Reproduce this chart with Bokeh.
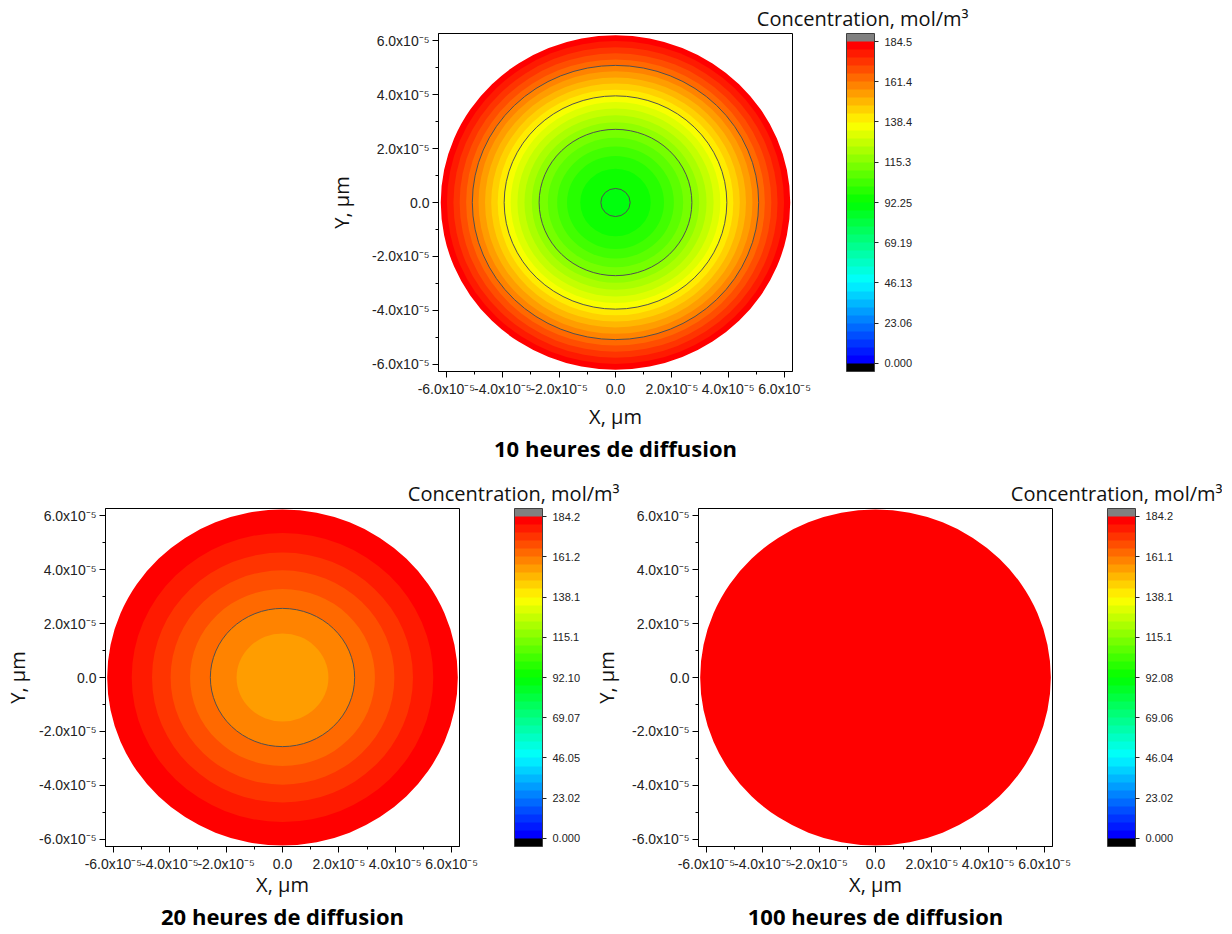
import colorsys
from bokeh.plotting import figure
from bokeh.models import (ColumnDataSource, LinearColorMapper, ColorBar, FixedTicker,
                          Title, Spacer, Range1d)
from bokeh.layouts import column, row
from bokeh.embed import file_html
from bokeh.resources import INLINE

# ---------------- data ----------------
axis_ticks = [-6e-5, -4e-5, -2e-5, 0.0, 2e-5, 4e-5, 6e-5]
axis_tick_labels = ["-6.0x10⁻⁵", "-4.0x10⁻⁵", "-2.0x10⁻⁵", "0.0",
                    "2.0x10⁻⁵", "4.0x10⁻⁵", "6.0x10⁻⁵"]
axis_minor_ticks = [-5e-5, -3e-5, -1e-5, 1e-5, 3e-5, 5e-5]

# 10 h of diffusion
cmax_10 = 184.5
cbar_ticks_10 = [0.0, 23.06, 46.13, 69.19, 92.25, 115.3, 138.4, 161.4, 184.5]
cbar_labels_10 = ["0.000", "23.06", "46.13", "69.19", "92.25", "115.3", "138.4", "161.4", "184.5"]
band_radius_10 = [6.20e-5, 5.98e-5, 5.75e-5, 5.53e-5, 5.30e-5, 5.08e-5, 4.86e-5, 4.63e-5,
                  4.41e-5, 4.18e-5, 3.95e-5, 3.72e-5, 3.48e-5, 3.23e-5, 2.97e-5, 2.71e-5,
                  2.40e-5, 2.07e-5, 1.72e-5, 1.25e-5, 0.52e-5]
band_conc_10 = [182.2, 177.6, 173.0, 168.4, 163.7, 159.1, 154.5, 149.9, 145.3, 140.7,
                136.1, 131.5, 126.8, 122.2, 117.6, 113.0, 108.4, 103.8, 99.2, 94.6, 90.0]
contour_radius_10 = [5.08e-5, 3.95e-5, 2.71e-5, 0.52e-5]

# 20 h of diffusion
cmax_20 = 184.2
cbar_ticks_20 = [0.0, 23.02, 46.05, 69.07, 92.10, 115.1, 138.1, 161.2, 184.2]
cbar_labels_20 = ["0.000", "23.02", "46.05", "69.07", "92.10", "115.1", "138.1", "161.2", "184.2"]
band_radius_20 = [6.22e-5, 5.35e-5, 4.63e-5, 3.97e-5, 3.28e-5, 2.56e-5, 1.63e-5]
band_conc_20 = [181.9, 177.3, 172.7, 168.1, 163.5, 158.9, 154.3]
contour_radius_20 = [2.56e-5]

# 100 h of diffusion
cmax_100 = 184.16
cbar_ticks_100 = [0.0, 23.02, 46.04, 69.06, 92.08, 115.1, 138.1, 161.1, 184.2]
cbar_labels_100 = ["0.000", "23.02", "46.04", "69.06", "92.08", "115.1", "138.1", "161.1", "184.2"]
band_radius_100 = [6.22e-5]
band_conc_100 = [182.0]
contour_radius_100 = []

# ---------------- style ----------------
N_LEVELS = 40
rainbow = []
for k in range(N_LEVELS):
    h = 240.0 * (1 - k / (N_LEVELS - 1)) / 360.0
    r, g, b = colorsys.hsv_to_rgb(h, 1, 1)
    rainbow.append("#%02x%02x%02x" % (round(r * 255), round(g * 255), round(b * 255)))
palette = ["#000000"] + rainbow + ["#808080"]

FW, FH = 354, 338
TICK_FONT = "Liberation Sans"
TITLE_FONT = "Open Sans"


def make_panel(cmax, cticks, clabels, radii, concs, contours, subtitle,
               mb_left, mb_right, mb_top, mb_bottom, ylab_standoff, xlab_standoff,
               title_offset, cb_gap, margin=None):
    bin_w = cmax / N_LEVELS
    mapper = LinearColorMapper(palette=palette, low=-bin_w, high=cmax + bin_w)
    kw = {}
    if margin is not None:
        kw["margin"] = margin
    p = figure(frame_width=FW, frame_height=FH,
               x_range=Range1d(-6.28e-5, 6.28e-5), y_range=Range1d(-6.26e-5, 6.26e-5),
               output_backend="svg", toolbar_location=None,
               min_border_left=mb_left, min_border_right=mb_right,
               min_border_top=mb_top, min_border_bottom=mb_bottom, **kw)
    p.border_fill_alpha = 0
    p.background_fill_color = "white"
    p.grid.visible = False
    p.outline_line_color = "black"
    p.outline_line_width = 1

    src = ColumnDataSource(dict(x=[0.0] * len(radii), y=[0.0] * len(radii),
                                d=[2 * r for r in radii], c=concs))
    p.ellipse(x="x", y="y", width="d", height="d", source=src,
              fill_color={"field": "c", "transform": mapper}, line_color=None)
    if contours:
        csrc = ColumnDataSource(dict(x=[0.0] * len(contours), y=[0.0] * len(contours),
                                     d=[2 * r for r in contours]))
        p.ellipse(x="x", y="y", width="d", height="d", source=csrc,
                  fill_color=None, line_color="#505050", line_width=1)

    overrides = dict(zip(axis_ticks, axis_tick_labels))
    for ax in (p.xaxis[0], p.yaxis[0]):
        ax.ticker = FixedTicker(ticks=axis_ticks, minor_ticks=axis_minor_ticks)
        ax.major_label_overrides = overrides
        ax.major_tick_in = 0
        ax.major_tick_out = 6
        ax.minor_tick_in = 0
        ax.minor_tick_out = 3
        ax.axis_line_color = "black"
        ax.major_tick_line_color = "black"
        ax.minor_tick_line_color = "black"
        ax.major_label_text_font = TICK_FONT
        ax.major_label_text_font_size = "14px"
        ax.major_label_text_color = "#222222"
        ax.major_label_standoff = 3
        ax.axis_label_text_font = TITLE_FONT
        ax.axis_label_text_font_size = "20px"
        ax.axis_label_text_font_style = "normal"
        ax.axis_label_text_color = "#111111"
    p.xaxis.axis_label = "X, µm"
    p.yaxis.axis_label = "Y, µm"
    p.xaxis.axis_label_standoff = xlab_standoff
    p.yaxis.axis_label_standoff = ylab_standoff

    cb = ColorBar(color_mapper=mapper, ticker=FixedTicker(ticks=cticks),
                  major_label_overrides=dict(zip(cticks, clabels)),
                  width=28, height=FH, location=(FW + cb_gap, 0), padding=0, margin=0,
                  bar_line_color="#404040", bar_line_width=1,
                  major_tick_in=0, major_tick_out=4, major_tick_line_color="#222222",
                  minor_tick_line_color=None, label_standoff=6,
                  major_label_text_font=TICK_FONT, major_label_text_font_size="11px",
                  major_label_text_color="#222222",
                  background_fill_alpha=0, border_line_color=None)
    p.add_layout(cb)

    p.add_layout(Title(text="Concentration, mol/m³", align="right", offset=title_offset,
                       vertical_align="bottom", standoff=4, text_font=TITLE_FONT,
                       text_font_size="20px", text_font_style="normal",
                       text_color="#111111"), "above")
    p.add_layout(Title(text=subtitle, align="center", vertical_align="top",
                       standoff=0, text_font=TITLE_FONT, text_font_size="22px",
                       text_font_style="bold", text_color="#000000"), "below")
    return p


p10 = make_panel(cmax_10, cbar_ticks_10, cbar_labels_10, band_radius_10, band_conc_10,
                 contour_radius_10, "10 heures de diffusion",
                 mb_left=108, mb_right=180, mb_top=33, mb_bottom=86, ylab_standoff=14,
                 xlab_standoff=3, title_offset=-176, cb_gap=54)
p20 = make_panel(cmax_20, cbar_ticks_20, cbar_labels_20, band_radius_20, band_conc_20,
                 contour_radius_20, "20 heures de diffusion",
                 mb_left=97, mb_right=163, mb_top=44, mb_bottom=76, ylab_standoff=5,
                 xlab_standoff=-4, title_offset=-160, cb_gap=55)
p100 = make_panel(cmax_100, cbar_ticks_100, cbar_labels_100, band_radius_100, band_conc_100,
                  contour_radius_100, "100 heures de diffusion",
                  mb_left=102, mb_right=170, mb_top=44, mb_bottom=76, ylab_standoff=9,
                  xlab_standoff=-4, title_offset=-170, cb_gap=55,
                  margin=(0, 0, 0, -33))

layout = column(row(Spacer(width=324, height=10), p10), row(p20, p100))

open("out.html", "w").write(file_html(layout, INLINE))
